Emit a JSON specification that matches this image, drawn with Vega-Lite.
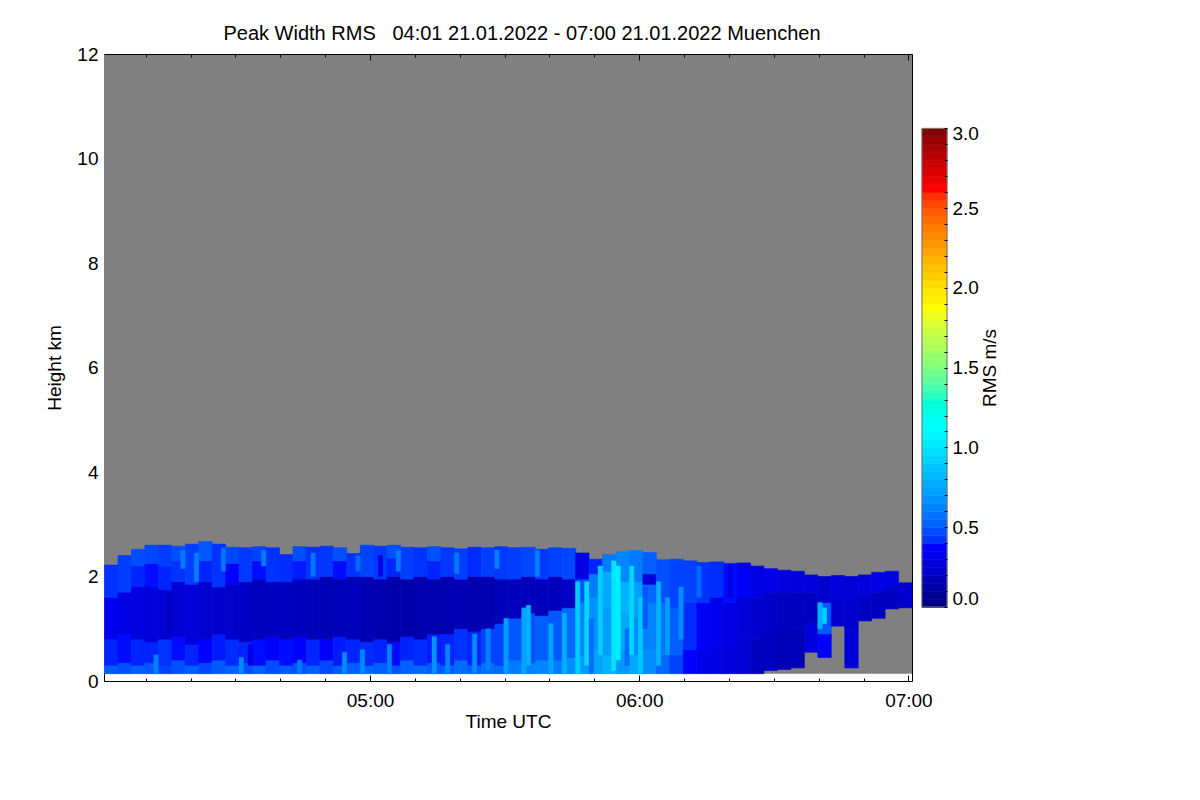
{
  "$schema": "https://vega.github.io/schema/vega-lite/v6.json",
  "autosize": {"type": "pad"},
  "padding": {"left": 45, "top": 24, "right": 20, "bottom": 20},
  "background": "white",
  "bounds": "flush",
  "spacing": 10,
  "datasets": {
    "bg": [{"t0": 0.7, "t1": 180.8, "h0": 0.14, "h1": 12}],
    "cells": [
      {"t":2,"b":0.14,"u":0.3,"v":0.5},{"t":2,"b":0.3,"u":0.8,"v":0.4},{"t":2,"b":0.8,"u":1.6,"v":0.33},{"t":2,"b":1.6,"u":2.22,"v":0.42},
      {"t":5,"b":0.14,"u":0.35,"v":0.48},{"t":5,"b":0.35,"u":0.9,"v":0.38},{"t":5,"b":0.9,"u":1.7,"v":0.3},{"t":5,"b":1.7,"u":2.4,"v":0.44},
      {"t":8,"b":0.14,"u":0.3,"v":0.52},{"t":8,"b":0.3,"u":0.8,"v":0.4},{"t":8,"b":0.8,"u":1.8,"v":0.29},{"t":8,"b":1.8,"u":2.2,"v":0.4},{"t":8,"b":2.2,"u":2.52,"v":0.47},
      {"t":11,"b":0.14,"u":0.35,"v":0.5},{"t":11,"b":0.35,"u":0.75,"v":0.4},{"t":11,"b":0.75,"u":1.8,"v":0.27},{"t":11,"b":1.8,"u":2.25,"v":0.38},{"t":11,"b":2.25,"u":2.6,"v":0.46},
      {"t":14,"b":0.14,"u":0.3,"v":0.45},{"t":14,"b":0.3,"u":0.8,"v":0.42},{"t":14,"b":0.8,"u":1.75,"v":0.26},{"t":14,"b":1.75,"u":2.2,"v":0.4},{"t":14,"b":2.2,"u":2.6,"v":0.44},
      {"t":17,"b":0.14,"u":0.4,"v":0.48},{"t":17,"b":0.4,"u":0.85,"v":0.38},{"t":17,"b":0.85,"u":1.9,"v":0.25},{"t":17,"b":1.9,"u":2.3,"v":0.42},{"t":17,"b":2.3,"u":2.58,"v":0.48},
      {"t":20,"b":0.14,"u":0.3,"v":0.52},{"t":20,"b":0.3,"u":0.7,"v":0.4},{"t":20,"b":0.7,"u":1.85,"v":0.27},{"t":20,"b":1.85,"u":2.62,"v":0.44},
      {"t":23,"b":0.14,"u":0.35,"v":0.46},{"t":23,"b":0.35,"u":0.8,"v":0.37},{"t":23,"b":0.8,"u":1.9,"v":0.24},{"t":23,"b":1.9,"u":2.3,"v":0.4},{"t":23,"b":2.3,"u":2.67,"v":0.5},
      {"t":26,"b":0.14,"u":0.4,"v":0.5},{"t":26,"b":0.4,"u":0.9,"v":0.39},{"t":26,"b":0.9,"u":1.8,"v":0.23},{"t":26,"b":1.8,"u":2.62,"v":0.42},
      {"t":29,"b":0.14,"u":0.3,"v":0.53},{"t":29,"b":0.3,"u":0.8,"v":0.41},{"t":29,"b":0.8,"u":1.85,"v":0.23},{"t":29,"b":1.85,"u":2.25,"v":0.37},{"t":29,"b":2.25,"u":2.56,"v":0.46},
      {"t":32,"b":0.14,"u":0.35,"v":0.48},{"t":32,"b":0.35,"u":0.75,"v":0.4},{"t":32,"b":0.75,"u":1.9,"v":0.21},{"t":32,"b":1.9,"u":2.55,"v":0.43},
      {"t":35,"b":0.14,"u":0.3,"v":0.52},{"t":35,"b":0.3,"u":0.8,"v":0.38},{"t":35,"b":0.8,"u":1.95,"v":0.2},{"t":35,"b":1.95,"u":2.3,"v":0.38},{"t":35,"b":2.3,"u":2.57,"v":0.45},
      {"t":38,"b":0.14,"u":0.4,"v":0.47},{"t":38,"b":0.4,"u":0.85,"v":0.37},{"t":38,"b":0.85,"u":1.9,"v":0.2},{"t":38,"b":1.9,"u":2.55,"v":0.42},
      {"t":41,"b":0.14,"u":0.3,"v":0.5},{"t":41,"b":0.3,"u":0.8,"v":0.38},{"t":41,"b":0.8,"u":1.9,"v":0.19},{"t":41,"b":1.9,"u":2.42,"v":0.41},
      {"t":44,"b":0.14,"u":0.35,"v":0.48},{"t":44,"b":0.35,"u":0.85,"v":0.37},{"t":44,"b":0.85,"u":1.95,"v":0.19},{"t":44,"b":1.95,"u":2.3,"v":0.39},{"t":44,"b":2.3,"u":2.57,"v":0.47},
      {"t":47,"b":0.14,"u":0.3,"v":0.52},{"t":47,"b":0.3,"u":0.8,"v":0.4},{"t":47,"b":0.8,"u":1.95,"v":0.18},{"t":47,"b":1.95,"u":2.56,"v":0.42},
      {"t":50,"b":0.14,"u":0.4,"v":0.46},{"t":50,"b":0.4,"u":0.8,"v":0.35},{"t":50,"b":0.8,"u":2.0,"v":0.17},{"t":50,"b":2.0,"u":2.58,"v":0.43},
      {"t":53,"b":0.14,"u":0.3,"v":0.5},{"t":53,"b":0.3,"u":0.85,"v":0.39},{"t":53,"b":0.85,"u":1.95,"v":0.18},{"t":53,"b":1.95,"u":2.3,"v":0.38},{"t":53,"b":2.3,"u":2.55,"v":0.48},
      {"t":56,"b":0.14,"u":0.35,"v":0.52},{"t":56,"b":0.35,"u":0.8,"v":0.4},{"t":56,"b":0.8,"u":2.0,"v":0.18},{"t":56,"b":2.0,"u":2.44,"v":0.42},
      {"t":59,"b":0.14,"u":0.3,"v":0.54},{"t":59,"b":0.3,"u":0.75,"v":0.41},{"t":59,"b":0.75,"u":2.0,"v":0.17},{"t":59,"b":2.0,"u":2.6,"v":0.45},
      {"t":62,"b":0.14,"u":0.35,"v":0.52},{"t":62,"b":0.35,"u":0.8,"v":0.4},{"t":62,"b":0.8,"u":1.95,"v":0.15},{"t":62,"b":1.95,"u":2.58,"v":0.43},
      {"t":65,"b":0.14,"u":0.3,"v":0.48},{"t":65,"b":0.3,"u":0.75,"v":0.38},{"t":65,"b":0.75,"u":2.0,"v":0.14},{"t":65,"b":2.0,"u":2.35,"v":0.4},{"t":65,"b":2.35,"u":2.6,"v":0.48},
      {"t":68,"b":0.14,"u":0.4,"v":0.52},{"t":68,"b":0.4,"u":0.85,"v":0.4},{"t":68,"b":0.85,"u":1.95,"v":0.14},{"t":68,"b":1.95,"u":2.56,"v":0.44},
      {"t":71,"b":0.14,"u":0.3,"v":0.54},{"t":71,"b":0.3,"u":0.8,"v":0.41},{"t":71,"b":0.8,"u":2.0,"v":0.15},{"t":71,"b":2.0,"u":2.55,"v":0.42},
      {"t":74,"b":0.14,"u":0.35,"v":0.5},{"t":74,"b":0.35,"u":0.9,"v":0.39},{"t":74,"b":0.9,"u":1.95,"v":0.14},{"t":74,"b":1.95,"u":2.3,"v":0.4},{"t":74,"b":2.3,"u":2.57,"v":0.48},
      {"t":77,"b":0.14,"u":0.3,"v":0.52},{"t":77,"b":0.3,"u":0.9,"v":0.4},{"t":77,"b":0.9,"u":2.0,"v":0.15},{"t":77,"b":2.0,"u":2.55,"v":0.43},
      {"t":80,"b":0.14,"u":0.4,"v":0.55},{"t":80,"b":0.4,"u":1.0,"v":0.42},{"t":80,"b":1.0,"u":1.95,"v":0.16},{"t":80,"b":1.95,"u":2.53,"v":0.44},
      {"t":83,"b":0.14,"u":0.3,"v":0.52},{"t":83,"b":0.3,"u":0.95,"v":0.4},{"t":83,"b":0.95,"u":2.0,"v":0.15},{"t":83,"b":2.0,"u":2.56,"v":0.41},
      {"t":86,"b":0.14,"u":0.35,"v":0.57},{"t":86,"b":0.35,"u":1.0,"v":0.45},{"t":86,"b":1.0,"u":2.0,"v":0.16},{"t":86,"b":2.0,"u":2.55,"v":0.44},
      {"t":89,"b":0.14,"u":0.3,"v":0.55},{"t":89,"b":0.3,"u":1.1,"v":0.45},{"t":89,"b":1.1,"u":1.95,"v":0.17},{"t":89,"b":1.95,"u":2.57,"v":0.43},
      {"t":92,"b":0.14,"u":0.4,"v":0.6},{"t":92,"b":0.4,"u":1.2,"v":0.5},{"t":92,"b":1.2,"u":1.95,"v":0.19},{"t":92,"b":1.95,"u":2.55,"v":0.44},
      {"t":95,"b":0.14,"u":0.35,"v":0.62},{"t":95,"b":0.35,"u":1.3,"v":0.48},{"t":95,"b":1.3,"u":2.0,"v":0.18},{"t":95,"b":2.0,"u":2.56,"v":0.46},
      {"t":98,"b":0.14,"u":0.4,"v":0.64},{"t":98,"b":0.4,"u":1.25,"v":0.52},{"t":98,"b":1.25,"u":1.95,"v":0.19},{"t":98,"b":1.95,"u":2.52,"v":0.43},
      {"t":101,"b":0.14,"u":0.4,"v":0.6},{"t":101,"b":0.4,"u":1.35,"v":0.5},{"t":101,"b":1.35,"u":2.0,"v":0.19},{"t":101,"b":2.0,"u":2.55,"v":0.45},
      {"t":104,"b":0.14,"u":0.45,"v":0.66},{"t":104,"b":0.45,"u":1.4,"v":0.54},{"t":104,"b":1.4,"u":1.95,"v":0.21},{"t":104,"b":1.95,"u":2.54,"v":0.46},
      {"t":107,"b":0.14,"u":0.5,"v":0.7},{"t":107,"b":0.5,"u":1.5,"v":0.62},{"t":107,"b":1.5,"u":1.95,"v":0.48},{"t":107,"b":1.95,"u":2.45,"v":0.3},
      {"t":110,"b":0.14,"u":0.6,"v":0.74},{"t":110,"b":0.6,"u":1.6,"v":0.68},{"t":110,"b":1.6,"u":2.05,"v":0.6},{"t":110,"b":2.05,"u":2.33,"v":0.4},
      {"t":113,"b":0.14,"u":0.5,"v":0.8},{"t":113,"b":0.5,"u":1.4,"v":0.72},{"t":113,"b":1.4,"u":2.1,"v":0.76},{"t":113,"b":2.1,"u":2.42,"v":0.6},
      {"t":116,"b":0.14,"u":0.6,"v":0.7},{"t":116,"b":0.6,"u":1.3,"v":0.76},{"t":116,"b":1.3,"u":1.9,"v":0.8},{"t":116,"b":1.9,"u":2.48,"v":0.64},
      {"t":119,"b":0.14,"u":0.5,"v":0.76},{"t":119,"b":0.5,"u":1.2,"v":0.66},{"t":119,"b":1.2,"u":1.9,"v":0.72},{"t":119,"b":1.9,"u":2.5,"v":0.6},
      {"t":122,"b":0.14,"u":0.6,"v":0.66},{"t":122,"b":0.6,"u":1.5,"v":0.62},{"t":122,"b":1.5,"u":1.85,"v":0.54},{"t":122,"b":1.85,"u":2.05,"v":0.27},{"t":122,"b":2.05,"u":2.46,"v":0.52},
      {"t":125,"b":0.14,"u":0.5,"v":0.54},{"t":125,"b":0.5,"u":1.5,"v":0.58},{"t":125,"b":1.5,"u":2.32,"v":0.48},
      {"t":128,"b":0.14,"u":0.5,"v":0.45},{"t":128,"b":0.5,"u":1.4,"v":0.52},{"t":128,"b":1.4,"u":2.33,"v":0.45},
      {"t":131,"b":0.14,"u":0.6,"v":0.37},{"t":131,"b":0.6,"u":1.5,"v":0.41},{"t":131,"b":1.5,"u":2.3,"v":0.45},
      {"t":134,"b":0.14,"u":0.6,"v":0.32},{"t":134,"b":0.6,"u":1.5,"v":0.35},{"t":134,"b":1.5,"u":2.27,"v":0.42},
      {"t":137,"b":0.14,"u":0.7,"v":0.3},{"t":137,"b":0.7,"u":1.6,"v":0.33},{"t":137,"b":1.6,"u":2.28,"v":0.41},
      {"t":140,"b":0.14,"u":0.7,"v":0.28},{"t":140,"b":0.7,"u":1.5,"v":0.3},{"t":140,"b":1.5,"u":2.25,"v":0.38},
      {"t":143,"b":0.14,"u":0.8,"v":0.25},{"t":143,"b":0.8,"u":1.6,"v":0.27},{"t":143,"b":1.6,"u":2.26,"v":0.36},
      {"t":146,"b":0.14,"u":0.8,"v":0.2},{"t":146,"b":0.8,"u":1.6,"v":0.23},{"t":146,"b":1.6,"u":2.2,"v":0.3},
      {"t":149,"b":0.2,"u":0.9,"v":0.19},{"t":149,"b":0.9,"u":1.7,"v":0.22},{"t":149,"b":1.7,"u":2.15,"v":0.32},
      {"t":152,"b":0.22,"u":1.0,"v":0.18},{"t":152,"b":1.0,"u":1.7,"v":0.2},{"t":152,"b":1.7,"u":2.12,"v":0.29},
      {"t":155,"b":0.25,"u":1.0,"v":0.17},{"t":155,"b":1.0,"u":1.7,"v":0.2},{"t":155,"b":1.7,"u":2.1,"v":0.28},
      {"t":158,"b":0.55,"u":1.1,"v":0.27},{"t":158,"b":1.1,"u":1.7,"v":0.2},{"t":158,"b":1.7,"u":2.03,"v":0.28},
      {"t":161,"b":0.45,"u":0.9,"v":0.36},{"t":161,"b":0.9,"u":1.5,"v":0.5},{"t":161,"b":1.5,"u":2.0,"v":0.23},
      {"t":164,"b":1.05,"u":1.6,"v":0.23},{"t":164,"b":1.6,"u":2.02,"v":0.28},
      {"t":167,"b":0.25,"u":1.0,"v":0.28},{"t":167,"b":1.0,"u":1.6,"v":0.23},{"t":167,"b":1.6,"u":2.0,"v":0.26},
      {"t":170,"b":1.15,"u":1.6,"v":0.2},{"t":170,"b":1.6,"u":2.03,"v":0.28},
      {"t":173,"b":1.2,"u":1.7,"v":0.2},{"t":173,"b":1.7,"u":2.08,"v":0.3},
      {"t":176,"b":1.38,"u":1.8,"v":0.21},{"t":176,"b":1.8,"u":2.1,"v":0.3},
      {"t":179,"b":1.4,"u":1.88,"v":0.23}
    ],
    "streaks": [
      {"t":12,"b":0.14,"u":0.5,"v":0.62},{"t":15,"b":0.9,"u":1.7,"v":0.2},{"t":18,"b":2.15,"u":2.5,"v":0.6},{"t":21,"b":1.9,"u":2.45,"v":0.62},
      {"t":27,"b":2.1,"u":2.55,"v":0.58},{"t":31,"b":0.14,"u":0.45,"v":0.65},{"t":33,"b":0.3,"u":0.7,"v":0.3},{"t":36,"b":2.2,"u":2.5,"v":0.6},
      {"t":44,"b":0.14,"u":0.4,"v":0.6},{"t":47,"b":2.0,"u":2.45,"v":0.58},{"t":54,"b":0.14,"u":0.55,"v":0.66},{"t":57,"b":2.1,"u":2.4,"v":0.55},
      {"t":58,"b":0.14,"u":0.6,"v":0.65},{"t":62,"b":2.0,"u":2.4,"v":0.3},{"t":64,"b":0.14,"u":0.7,"v":0.62},{"t":66,"b":2.1,"u":2.5,"v":0.6},
      {"t":74,"b":0.14,"u":0.85,"v":0.68},{"t":77,"b":0.14,"u":0.7,"v":0.64},{"t":79,"b":2.05,"u":2.45,"v":0.6},{"t":83,"b":0.14,"u":0.9,"v":0.66},
      {"t":86,"b":0.2,"u":1.0,"v":0.62},{"t":88,"b":2.15,"u":2.5,"v":0.62},{"t":90,"b":0.14,"u":1.2,"v":0.72},{"t":94,"b":0.14,"u":1.4,"v":0.75},
      {"t":95,"b":0.3,"u":1.45,"v":0.8},{"t":97,"b":2.0,"u":2.5,"v":0.62},{"t":100,"b":0.14,"u":1.1,"v":0.74},{"t":103,"b":0.14,"u":1.3,"v":0.78},
      {"t":106,"b":0.14,"u":1.9,"v":0.9},{"t":108,"b":0.3,"u":1.9,"v":0.95},{"t":109,"b":0.14,"u":1.2,"v":0.55},{"t":111,"b":0.5,"u":2.2,"v":0.9},
      {"t":114,"b":0.2,"u":2.3,"v":1.0},{"t":115,"b":0.4,"u":2.2,"v":1.05},{"t":117,"b":0.3,"u":1.0,"v":0.55},{"t":118,"b":0.5,"u":2.2,"v":0.95},
      {"t":120,"b":0.14,"u":1.6,"v":0.88},{"t":121,"b":1.0,"u":1.8,"v":0.5},{"t":124,"b":0.3,"u":1.9,"v":0.8},{"t":126,"b":0.5,"u":1.6,"v":0.72},
      {"t":129,"b":0.8,"u":1.8,"v":0.66},{"t":133,"b":1.6,"u":2.2,"v":0.55},{"t":140,"b":1.6,"u":2.2,"v":0.3},{"t":160,"b":1.0,"u":1.5,"v":0.8},
      {"t":161,"b":1.1,"u":1.4,"v":0.9}
    ],
    "bar": [
      {"v":0.025},{"v":0.075},{"v":0.125},{"v":0.175},{"v":0.225},{"v":0.275},{"v":0.325},{"v":0.375},{"v":0.425},{"v":0.475},
      {"v":0.525},{"v":0.575},{"v":0.625},{"v":0.675},{"v":0.725},{"v":0.775},{"v":0.825},{"v":0.875},{"v":0.925},{"v":0.975},
      {"v":1.025},{"v":1.075},{"v":1.125},{"v":1.175},{"v":1.225},{"v":1.275},{"v":1.325},{"v":1.375},{"v":1.425},{"v":1.475},
      {"v":1.525},{"v":1.575},{"v":1.625},{"v":1.675},{"v":1.725},{"v":1.775},{"v":1.825},{"v":1.875},{"v":1.925},{"v":1.975},
      {"v":2.025},{"v":2.075},{"v":2.125},{"v":2.175},{"v":2.225},{"v":2.275},{"v":2.325},{"v":2.375},{"v":2.425},{"v":2.475},
      {"v":2.525},{"v":2.575},{"v":2.625},{"v":2.675},{"v":2.725},{"v":2.775},{"v":2.825},{"v":2.875},{"v":2.925},{"v":2.975}
    ],
    "frame": [{"lo": 0, "hi": 3}]
  },
  "hconcat": [
    {
      "width": 808,
      "height": 627,
      "title": {
        "text": "Peak Width RMS\u00a0\u00a0\u00a004:01 21.01.2022 - 07:00 21.01.2022 Muenchen",
        "anchor": "middle",
        "frame": "group",
        "baseline": "bottom",
        "offset": -19,
        "dx": 14,
        "font": "Liberation Sans",
        "fontSize": 20,
        "fontWeight": "normal",
        "color": "black"
      },
      "resolve": {"axis": {"x": "independent", "y": "independent"}},
      "layer": [
        {
          "data": {"name": "bg"},
          "mark": {"type": "rect", "color": "#808080"},
          "encoding": {
            "x": {
              "field": "t0",
              "type": "quantitative",
              "scale": {"domain": [0.7, 180.8], "nice": false, "zero": false},
              "axis": {
                "orient": "bottom",
                "title": "Time UTC",
                "titlePadding": -1,
                "values": [10, 20, 30, 40, 50, 60, 70, 80, 90, 100, 110, 120, 130, 140, 150, 160, 170, 180],
                "labelExpr": "datum.value % 60 == 0 ? '0' + (4 + datum.value / 60) + ':00' : ''",
                "tickSize": {"condition": {"test": "datum.value % 60 == 0", "value": -6}, "value": -3},
                "labelPadding": 16
              }
            },
            "x2": {"field": "t1"},
            "y": {
              "field": "h0",
              "type": "quantitative",
              "scale": {"domain": [0, 12], "nice": false, "zero": false},
              "axis": {
                "orient": "left",
                "title": "Height km",
                "titlePadding": 12,
                "values": [0, 0.5, 1, 1.5, 2, 2.5, 3, 3.5, 4, 4.5, 5, 5.5, 6, 6.5, 7, 7.5, 8, 8.5, 9, 9.5, 10, 10.5, 11, 11.5, 12],
                "labelExpr": "datum.value % 2 == 0 ? datum.value : ''",
                "tickSize": {"condition": {"test": "datum.value % 2 == 0", "value": -6}, "value": -3},
                "labelPadding": 12
              }
            },
            "y2": {"field": "h1"}
          }
        },
        {
          "data": {"name": "cells"},
          "mark": {"type": "rect", "strokeWidth": 0.6},
          "encoding": {
            "x": {
              "field": "t",
              "type": "quantitative",
              "bin": {"step": 3, "anchor": 0.7, "extent": [0.7, 180.7], "nice": false},
              "scale": {"domain": [0.7, 180.8], "nice": false, "zero": false},
              "axis": {
                "orient": "top",
                "title": null,
                "labels": false,
                "values": [10, 20, 30, 40, 50, 60, 70, 80, 90, 100, 110, 120, 130, 140, 150, 160, 170, 180],
                "tickSize": {"condition": {"test": "datum.value % 60 == 0", "value": -6}, "value": -3}
              }
            },
            "y": {
              "field": "b",
              "type": "quantitative",
              "scale": {"domain": [0, 12], "nice": false, "zero": false},
              "axis": {
                "orient": "right",
                "title": null,
                "labels": false,
                "values": [0, 0.5, 1, 1.5, 2, 2.5, 3, 3.5, 4, 4.5, 5, 5.5, 6, 6.5, 7, 7.5, 8, 8.5, 9, 9.5, 10, 10.5, 11, 11.5, 12],
                "tickSize": {"condition": {"test": "datum.value % 2 == 0", "value": -6}, "value": -3}
              }
            },
            "y2": {"field": "u"},
            "color": {
              "field": "v",
              "type": "quantitative",
              "scale": {
                "domain": [0, 0.375, 1.125, 1.5, 1.875, 2.625, 3],
                "range": ["#00007f", "#0000ff", "#00ffff", "#7fff7f", "#ffff00", "#ff0000", "#7f0000"]
              },
              "legend": null
            },
            "stroke": {
              "field": "v",
              "type": "quantitative",
              "scale": {
                "domain": [0, 0.375, 1.125, 1.5, 1.875, 2.625, 3],
                "range": ["#00007f", "#0000ff", "#00ffff", "#7fff7f", "#ffff00", "#ff0000", "#7f0000"]
              },
              "legend": null
            }
          }
        },
        {
          "data": {"name": "streaks"},
          "mark": {"type": "rect", "strokeWidth": 0.4},
          "encoding": {
            "x": {
              "field": "t",
              "type": "quantitative",
              "bin": {"step": 1, "anchor": 0.7, "extent": [0.7, 180.7], "nice": false},
              "scale": {"domain": [0.7, 180.8], "nice": false, "zero": false},
              "axis": null
            },
            "y": {
              "field": "b",
              "type": "quantitative",
              "scale": {"domain": [0, 12], "nice": false, "zero": false},
              "axis": null
            },
            "y2": {"field": "u"},
            "color": {
              "field": "v",
              "type": "quantitative",
              "scale": {
                "domain": [0, 0.375, 1.125, 1.5, 1.875, 2.625, 3],
                "range": ["#00007f", "#0000ff", "#00ffff", "#7fff7f", "#ffff00", "#ff0000", "#7f0000"]
              },
              "legend": null
            },
            "stroke": {
              "field": "v",
              "type": "quantitative",
              "scale": {
                "domain": [0, 0.375, 1.125, 1.5, 1.875, 2.625, 3],
                "range": ["#00007f", "#0000ff", "#00ffff", "#7fff7f", "#ffff00", "#ff0000", "#7f0000"]
              },
              "legend": null
            }
          }
        }
      ]
    },
    {
      "width": 25,
      "height": 627,
      "layer": [
        {
          "data": {"name": "bar"},
          "mark": {"type": "rect", "strokeWidth": 0.6},
          "encoding": {
            "y": {
              "field": "v",
              "type": "quantitative",
              "bin": {"step": 0.05, "extent": [0, 3], "nice": false},
              "scale": {"domain": [-0.464, 3.466], "nice": false, "zero": false},
              "axis": {
                "orient": "right",
                "title": "RMS m/s",
                "titleAngle": -90,
                "titleBaseline": "top",
                "titlePadding": 2,
                "domain": false,
                "values": [0, 0.1, 0.2, 0.3, 0.4, 0.5, 0.6, 0.7, 0.8, 0.9, 1, 1.1, 1.2, 1.3, 1.4, 1.5, 1.6, 1.7, 1.8, 1.9, 2, 2.1, 2.2, 2.3, 2.4, 2.5, 2.6, 2.7, 2.8, 2.9, 3],
                "labelExpr": "abs(datum.value * 2 - round(datum.value * 2)) < 0.001 ? format(datum.value, '.1f') : ''",
                "labelOffset": {"condition": [{"test": "datum.value == 0", "value": -8}, {"test": "datum.value == 3", "value": 5}], "value": 0},
                "tickSize": -3,
                "labelPadding": 8
              }
            },
            "color": {
              "field": "v",
              "type": "quantitative",
              "scale": {
                "domain": [0, 0.375, 1.125, 1.5, 1.875, 2.625, 3],
                "range": ["#00007f", "#0000ff", "#00ffff", "#7fff7f", "#ffff00", "#ff0000", "#7f0000"]
              },
              "legend": null
            },
            "stroke": {
              "field": "v",
              "type": "quantitative",
              "scale": {
                "domain": [0, 0.375, 1.125, 1.5, 1.875, 2.625, 3],
                "range": ["#00007f", "#0000ff", "#00ffff", "#7fff7f", "#ffff00", "#ff0000", "#7f0000"]
              },
              "legend": null
            }
          }
        },
        {
          "data": {"name": "frame"},
          "mark": {"type": "rect", "fill": null, "stroke": "#707070", "strokeWidth": 1},
          "encoding": {
            "y": {"field": "lo", "type": "quantitative", "scale": {"domain": [-0.464, 3.466], "nice": false, "zero": false}},
            "y2": {"field": "hi"}
          }
        }
      ]
    }
  ],
  "config": {
    "view": {"stroke": null},
    "font": "Liberation Sans",
    "axis": {
      "grid": false,
      "labelFont": "Liberation Sans",
      "labelFontSize": 19,
      "labelColor": "black",
      "labelOverlap": false,
      "labelFlush": false,
      "titleFont": "Liberation Sans",
      "titleFontSize": 19,
      "titleFontWeight": "normal",
      "titleColor": "black",
      "domainColor": "black",
      "domainWidth": 1,
      "tickColor": "black",
      "tickWidth": 1
    }
  }
}
